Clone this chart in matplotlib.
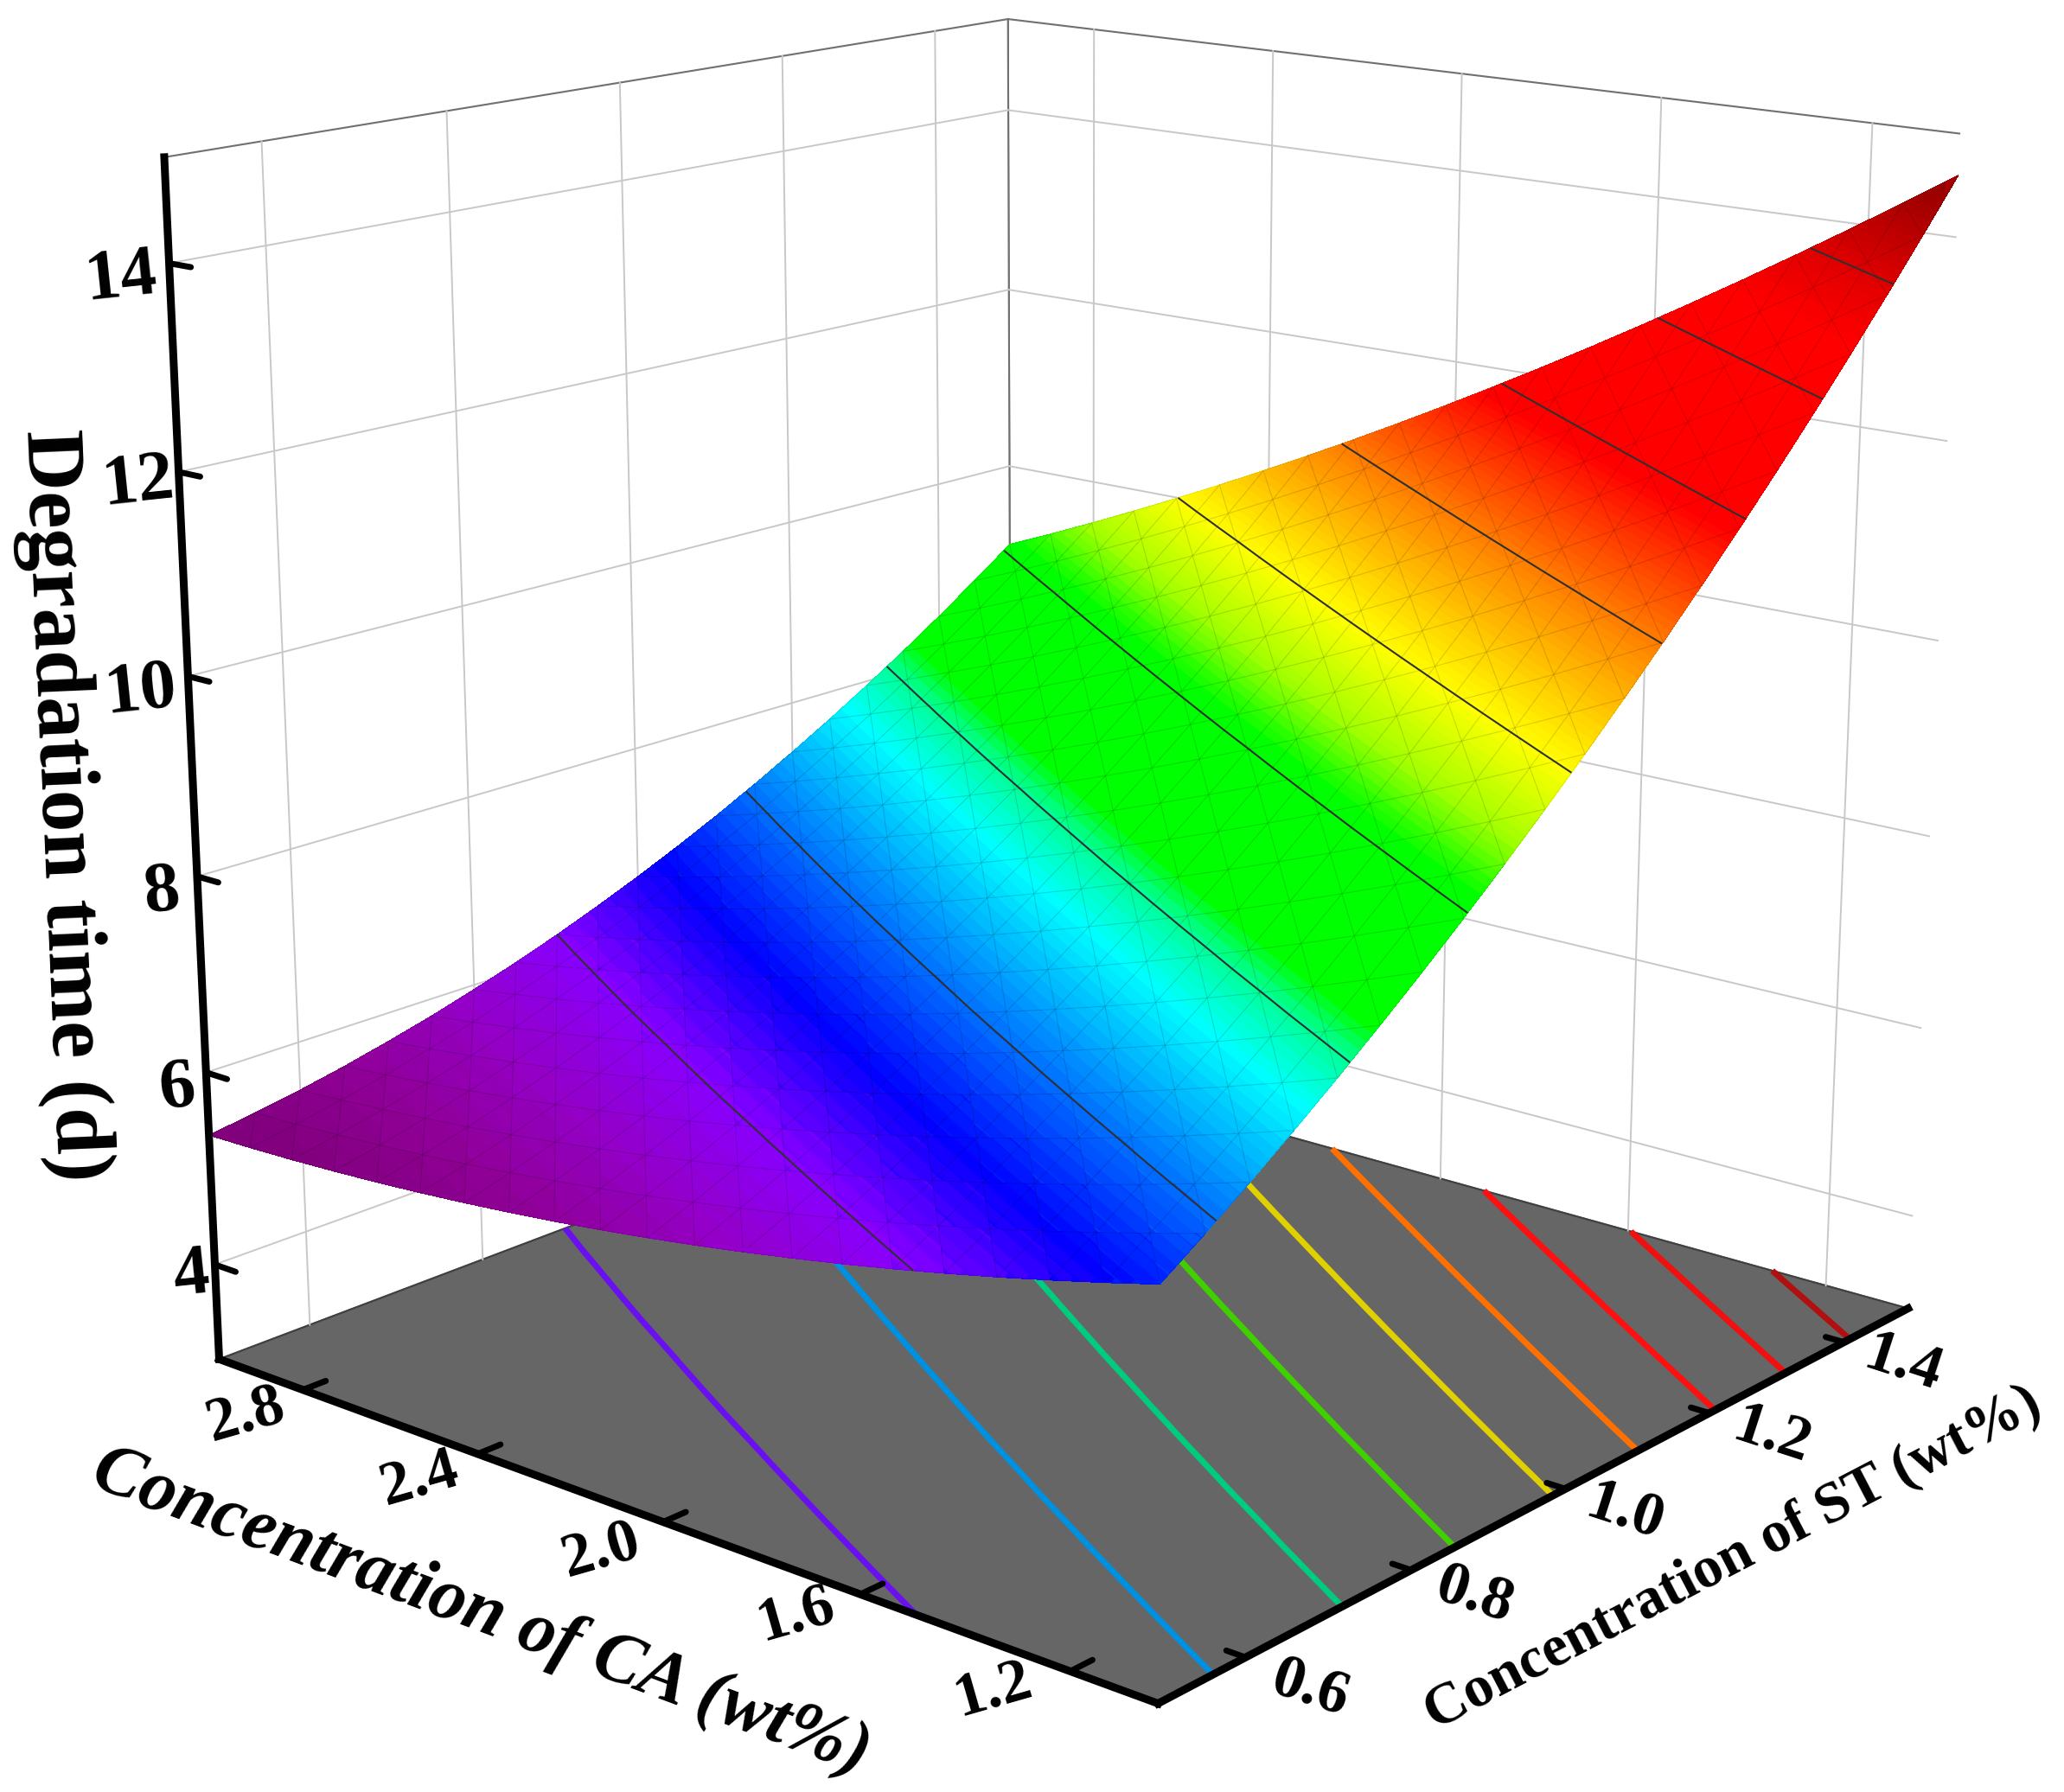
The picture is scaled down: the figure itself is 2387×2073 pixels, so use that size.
# importing required libraries
import numpy as np
import matplotlib
matplotlib.use('Agg')
import matplotlib.pyplot as plt
import matplotlib.tri as mtri
from matplotlib.colors import LinearSegmentedColormap, Normalize
from matplotlib.path import Path
from mpl_toolkits.mplot3d import proj3d

plt.rcParams['font.family'] = ['Liberation Serif', 'DejaVu Serif']

# 3D SURFACE CHART

# axis ranges
st_min, st_max = 0.5, 1.5
ca_min, ca_max = 1.04, 3.0
z_min, z_max = 3, 15

st = np.linspace(st_min, st_max, 21)
ca = np.linspace(ca_min, ca_max, 21)

# degradation time, one row per CA value, one column per ST value
time_d = [
    [6.820, 7.099, 7.389, 7.691, 8.005, 8.330, 8.667, 9.015, 9.375, 9.747, 10.130, 10.525, 10.931, 11.349, 11.779, 12.220, 12.673, 13.137, 13.613, 14.100, 14.600],
    [6.684, 6.953, 7.232, 7.524, 7.827, 8.142, 8.469, 8.807, 9.156, 9.518, 9.891, 10.276, 10.672, 11.080, 11.500, 11.931, 12.375, 12.829, 13.295, 13.772, 14.263],
    [6.555, 6.813, 7.082, 7.363, 7.656, 7.961, 8.277, 8.605, 8.944, 9.296, 9.659, 10.034, 10.420, 10.818, 11.228, 11.649, 12.083, 12.527, 12.983, 13.451, 13.932],
    [6.432, 6.680, 6.938, 7.209, 7.492, 7.786, 8.092, 8.409, 8.739, 9.080, 9.433, 9.798, 10.174, 10.562, 10.962, 11.374, 11.797, 12.232, 12.679, 13.137, 13.608],
    [6.316, 6.553, 6.801, 7.061, 7.334, 7.618, 7.914, 8.221, 8.540, 8.871, 9.214, 9.569, 9.935, 10.313, 10.703, 11.105, 11.519, 11.943, 12.380, 12.829, 13.290],
    [6.206, 6.433, 6.670, 6.920, 7.183, 7.456, 7.742, 8.038, 8.347, 8.669, 9.001, 9.346, 9.702, 10.070, 10.451, 10.842, 11.246, 11.661, 12.088, 12.527, 12.979],
    [6.103, 6.319, 6.546, 6.786, 7.038, 7.301, 7.577, 7.863, 8.162, 8.473, 8.795, 9.130, 9.476, 9.834, 10.205, 10.587, 10.981, 11.386, 11.803, 12.233, 12.674],
    [6.007, 6.212, 6.429, 6.658, 6.900, 7.152, 7.418, 7.694, 7.982, 8.284, 8.596, 8.920, 9.256, 9.605, 9.966, 10.337, 10.722, 11.117, 11.524, 11.944, 12.376],
    [5.917, 6.112, 6.318, 6.537, 6.768, 7.010, 7.266, 7.531, 7.810, 8.101, 8.403, 8.717, 9.043, 9.382, 9.733, 10.095, 10.469, 10.855, 11.252, 11.663, 12.085],
    [5.834, 6.018, 6.214, 6.422, 6.643, 6.875, 7.120, 7.375, 7.643, 7.925, 8.217, 8.521, 8.837, 9.166, 9.507, 9.858, 10.223, 10.599, 10.987, 11.387, 11.800],
    [5.757, 5.931, 6.116, 6.314, 6.525, 6.746, 6.981, 7.226, 7.484, 7.755, 8.037, 8.331, 8.637, 8.956, 9.287, 9.629, 9.984, 10.350, 10.728, 11.119, 11.522],
    [5.687, 5.850, 6.025, 6.212, 6.413, 6.624, 6.848, 7.083, 7.331, 7.592, 7.864, 8.148, 8.444, 8.753, 9.074, 9.406, 9.751, 10.107, 10.476, 10.857, 11.250],
    [5.623, 5.776, 5.940, 6.117, 6.308, 6.508, 6.723, 6.947, 7.185, 7.435, 7.697, 7.971, 8.257, 8.556, 8.867, 9.190, 9.525, 9.871, 10.230, 10.602, 10.985],
    [5.566, 5.709, 5.862, 6.029, 6.209, 6.399, 6.603, 6.817, 7.045, 7.285, 7.537, 7.801, 8.077, 8.366, 8.667, 8.980, 9.305, 9.642, 9.990, 10.353, 10.727],
    [5.516, 5.648, 5.791, 5.947, 6.117, 6.296, 6.490, 6.694, 6.911, 7.142, 7.384, 7.637, 7.903, 8.183, 8.474, 8.776, 9.092, 9.419, 9.758, 10.110, 10.475],
    [5.472, 5.593, 5.726, 5.872, 6.031, 6.200, 6.384, 6.578, 6.785, 7.005, 7.237, 7.480, 7.736, 8.006, 8.287, 8.580, 8.886, 9.203, 9.532, 9.875, 10.229],
    [5.434, 5.545, 5.667, 5.803, 5.952, 6.111, 6.285, 6.468, 6.665, 6.875, 7.096, 7.330, 7.576, 7.835, 8.107, 8.390, 8.686, 8.993, 9.312, 9.646, 9.990],
    [5.404, 5.504, 5.616, 5.741, 5.880, 6.028, 6.191, 6.364, 6.551, 6.751, 6.963, 7.186, 7.422, 7.672, 7.933, 8.206, 8.492, 8.790, 9.099, 9.423, 9.758],
    [5.379, 5.469, 5.570, 5.685, 5.814, 5.952, 6.105, 6.268, 6.444, 6.634, 6.835, 7.049, 7.275, 7.514, 7.766, 8.029, 8.306, 8.593, 8.893, 9.207, 9.532],
    [5.362, 5.441, 5.532, 5.636, 5.754, 5.882, 6.025, 6.177, 6.344, 6.524, 6.715, 6.918, 7.134, 7.364, 7.606, 7.859, 8.125, 8.403, 8.693, 8.998, 9.313],
    [5.351, 5.420, 5.500, 5.594, 5.702, 5.819, 5.952, 6.094, 6.250, 6.420, 6.601, 6.794, 7.000, 7.220, 7.452, 7.695, 7.952, 8.220, 8.500, 8.795, 9.101],
]

levels = [6.25, 7.17, 8.1, 9.05, 10, 10.92, 11.85, 12.78, 13.7]
floor_colors = ['#6a10f0', '#0090e0', '#00cc80', '#40d000', '#e0d000', '#ff7000', '#ff1010', '#f01010', '#b01010']

ca_ticks = [1.2, 1.6, 2.0, 2.4, 2.8]
st_ticks = [0.6, 0.8, 1.0, 1.2, 1.4]
z_ticks = [4, 6, 8, 10, 12, 14]

# colour stops of the rainbow, time value then colour
stop_values = [5.35, 5.6, 5.9, 6.25, 6.7, 7.17, 7.8, 8.1, 8.3, 9.15, 9.5, 10.0, 10.9, 11.75, 13.2, 13.7, 14.6]
stop_colors = ['#80007a', '#900098', '#9400c8', '#8800ff', '#0000ff', '#0070ff', '#00ffff', '#00ff99', '#00ff00',
               '#00ff00', '#a0ff00', '#ffff00', '#ff8000', '#ff0000', '#ff0000', '#e00000', '#8b0000']
norm = Normalize(stop_values[0], stop_values[-1])
rainbow = LinearSegmentedColormap.from_list('rainbow_time', [(norm(v), c) for v, c in zip(stop_values, stop_colors)], N=512)

W, H = 2387, 2073
fig = plt.figure(figsize=(W/100, H/100), dpi=100)
ax = fig.add_axes([0, 0, 1, 1], projection='3d', computed_zorder=False)
ax.set_position([0.0085, 0.0637, 1, 1])
ax.view_init(15.74, -139.73, 0)
ax.set_proj_type('persp', focal_length=0.5619)
ax.set_box_aspect((1, 1.0044, 1.0013), zoom=1.1579)

X, Y = np.meshgrid(st, ca)
Z = np.array(time_d)

# split every grid cell along the diagonal that follows the colour bands
n_ca, n_st = Z.shape
triangles = []
for i in range(n_ca - 1):
    for j in range(n_st - 1):
        k = i*n_st + j
        triangles.append([k, k + n_st + 1, k + n_st])
        triangles.append([k, k + 1, k + n_st + 1])
tri = mtri.Triangulation(X.ravel(), Y.ravel(), triangles)

# contours on the floor, hidden by the surface above them
ax.contour(X, Y, Z, levels=levels, zdir='z', offset=z_min, colors=floor_colors, linewidths=5, zorder=2)
ax.plot_trisurf(tri, Z.ravel(), cmap=rainbow, norm=norm, shade=False,
                linewidth=0, antialiased=False, zorder=3)
# thin colour bands running along the surface, like the banded shading of the original
bands = ax.contour(X, Y, Z, levels=np.arange(5.35, 14.6, 0.05), cmap=rainbow, norm=norm, linewidths=9, zorder=3.5)
# faint mesh on top of the bands
ax.plot_trisurf(tri, Z.ravel(), color=(0, 0, 0, 0), shade=False,
                linewidth=0.8, edgecolor=(0, 0, 0, 0.07), zorder=3.7)
ax.contour(X, Y, Z, levels=levels, colors='#303030', linewidths=1.5, zorder=4)

# wall grid
grid_style = dict(color='#c8c8c8', linewidth=1.4, zorder=1)
for t in ca_ticks:
    ax.plot([st_max, st_max], [t, t], [z_min, z_max], **grid_style)
for t in st_ticks:
    ax.plot([t, t], [ca_max, ca_max], [z_min, z_max], **grid_style)
for t in z_ticks:
    ax.plot([st_min, st_max], [ca_max, ca_max], [t, t], **grid_style)
    ax.plot([st_max, st_max], [ca_min, ca_max], [t, t], **grid_style)

# thick axis lines and stubby ticks
axis_style = dict(color='black', linewidth=6.5, solid_capstyle='projecting', zorder=6)
ax.plot([st_min, st_min], [ca_max, ca_max], [z_min, z_max], **axis_style)
ax.plot([st_min, st_min], [ca_min, ca_max], [z_min, z_min], **axis_style)
ax.plot([st_min, st_max], [ca_min, ca_min], [z_min, z_min], **axis_style)
tick_style = dict(color='black', linewidth=5, solid_capstyle='round', zorder=6)
for t in z_ticks:
    ax.plot([st_min, st_min], [ca_max, ca_max - 0.05], [t, t], **tick_style)
for t in ca_ticks:
    ax.plot([st_min, st_min + 0.025], [t, t], [z_min, z_min], **tick_style)
for t in st_ticks:
    ax.plot([t, t], [ca_min, ca_min + 0.035], [z_min, z_min], **tick_style)

ax.set_xlim(st_min, st_max, view_margin=0)
ax.set_ylim(ca_min, ca_max, view_margin=0)
ax.set_zlim(z_min, z_max, view_margin=0)
ax.set_xticks([])
ax.set_yticks([])
ax.set_zticks([])
ax.grid(False)

# the square axes box is narrower than the chart
for artist in list(ax.collections) + list(ax.lines):
    artist.set_clip_on(False)

# keep the wide colour bands inside the outline of the surface
edge_x = np.r_[st, np.full(n_ca, st_max), st[::-1], np.full(n_ca, st_min)]
edge_y = np.r_[np.full(n_st, ca_min), ca, np.full(n_st, ca_max), ca[::-1]]
edge_z = np.r_[Z[0, :], Z[:, -1], Z[-1, ::-1], Z[::-1, 0]]
edge_px, edge_py, _ = proj3d.proj_transform(edge_x, edge_y, edge_z, ax.get_proj())
bands.set_clip_on(True)
bands.set_clip_path(Path(np.c_[edge_px, edge_py]), ax.transData)

# white walls, grey floor
for axis in (ax.xaxis, ax.yaxis):
    axis.set_pane_color((1, 1, 1, 1))
    axis.pane.set_edgecolor('#707070')
    axis.pane.set_linewidth(1.5)
    axis.line.set_color((0, 0, 0, 0))
ax.zaxis.set_pane_color('#666666')
ax.zaxis.pane.set_edgecolor('#404040')
ax.zaxis.pane.set_linewidth(1.5)
ax.zaxis.line.set_color((0, 0, 0, 0))


def label(px, py, text, size, rotation=0, **kw):
    fig.text(px/W, 1 - py/H, text, fontsize=size, rotation=rotation, ha='center', va='center',
             rotation_mode='anchor', fontweight='bold', **kw)


# tick labels, in pixel positions of the picture
z_label_pos = [(221, 1476), (205, 1260), (187, 1033), (163, 800), (160, 560), (140, 322)]
for t, (px, py) in zip(z_ticks, z_label_pos):
    label(px, py, str(t), 60, rotation=6)

ca_label_pos = [(1149, 1956), (921, 1869), (695, 1795), (485, 1712), (284, 1638)]
for t, (px, py) in zip(ca_ticks, ca_label_pos):
    label(px, py, f'{t:.1f}', 52, rotation=16)

st_label_pos = [(1515, 1955), (1705, 1847), (1879, 1751), (2049, 1662), (2201, 1578)]
for t, (px, py) in zip(st_ticks, st_label_pos):
    label(px, py, f'{t:.1f}', 52, rotation=-18)

label(556, 1865, 'Concentration of CA (wt%)', 61, rotation=-20.5, style='italic')
label(2004, 1803, 'Concentration of ST (wt%)', 49, rotation=27.5)
label(72, 932, 'Degradation time (d)', 70, rotation=-87.5)

fig.savefig('out.png', dpi=100)
